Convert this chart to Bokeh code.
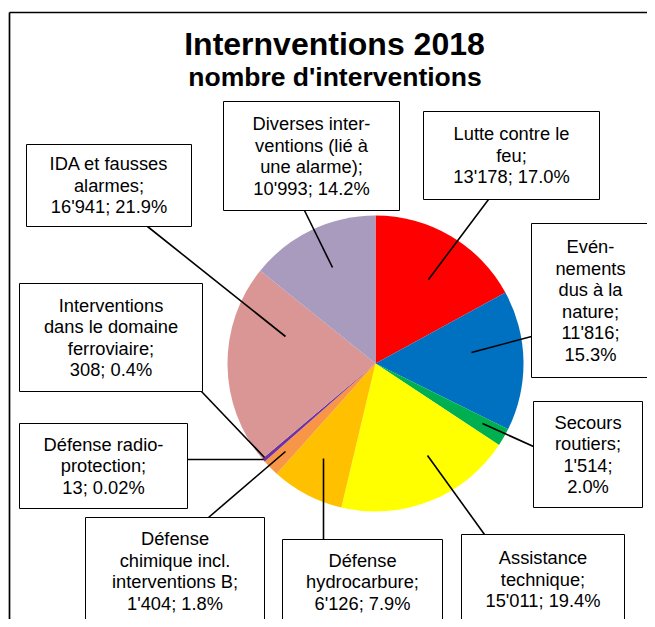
import math
from bokeh.plotting import figure
from bokeh.models import Range1d
from bokeh.core.properties import value
from bokeh.embed import file_html
from bokeh.resources import INLINE

# ---------------- data ----------------
categories = [
    "Lutte contre le feu",
    "Evénements dus à la nature",
    "Secours routiers",
    "Assistance technique",
    "Défense hydrocarbure",
    "Défense chimique incl. interventions B",
    "Défense radio-protection",
    "Interventions dans le domaine ferroviaire",
    "IDA et fausses alarmes",
    "Diverses interventions (lié à une alarme)",
]
counts = [13178, 11816, 1514, 15011, 6126, 1404, 13, 308, 16941, 10993]
colors = ["#FF0000", "#0070C0", "#00B050", "#FFFF00", "#FFC000",
          "#F79646", "#C0504D", "#7030A0", "#D99694", "#A89BBE"]
# wrapped name lines as shown in the labels
name_lines = [
    ["Lutte contre le", "feu;"],
    ["Evén-", "nements", "dus à la", "nature;"],
    ["Secours", "routiers;"],
    ["Assistance", "technique;"],
    ["Défense", "hydrocarbure;"],
    ["Défense", "chimique incl.", "interventions B;"],
    ["Défense radio-", "protection;"],
    ["Interventions", "dans le domaine", "ferroviaire;"],
    ["IDA et fausses", "alarmes;"],
    ["Diverses inter-", "ventions (lié à", "une alarme);"],
]
title = "Internventions 2018"
subtitle = "nombre d'interventions"

# ---------------- layout (image pixel coordinates) ----------------
W, H = 655, 627
PW, PH = W - 8, H - 8
CX, CY, R = 375, 363, 148
# label boxes: left, top, right, bottom
boxes = [
    (423, 111, 599, 199), (531, 223, 649, 377), (533, 401, 642, 507),
    (461, 534, 624, 624), (282, 539, 442, 624), (85, 517, 264, 624),
    (19, 423, 187, 508), (19, 283, 202, 391), (26, 144, 191, 226),
    (223, 101, 399, 210),
]
# leader lines: box end -> point in slice
leaders = [
    (488, 199, 428, 279), (531, 336, 471, 352), (533, 446, 482, 423),
    (484, 534, 427, 455), (323, 539, 323, 458), (208, 517, 285, 451),
    (187, 459, 263, 459), (201, 391, 264, 457), (147, 226, 285, 336),
    (304, 210, 332, 267),
]
split_value_line = [False, True, True, False, False, False, False, False, False, False]

FONT = "Liberation Sans"
FS = 18.3
LH = 21.5
CAP = 0.716 * FS
KSHIFT = 0.36  # baseline correction (em)


def Y(y):
    return H - y


def fmt_int(n):
    return f"{n:,}".replace(",", "'")


def fmt_pct(f):
    pct = 100.0 * f
    return f"{pct:.2f}%" if pct < 0.1 else f"{pct:.1f}%"


p = figure(width=PW, height=PH, x_range=Range1d(0, PW), y_range=Range1d(H - PH, H),
           output_backend="svg", toolbar_location=None,
           x_axis_location=None, y_axis_location=None, min_border=0)
p.outline_line_color = None
p.xgrid.visible = False
p.ygrid.visible = False
p.background_fill_color = "white"
p.border_fill_color = "white"

# frame (top and left edges visible)
p.segment(x0=[9, 9], y0=[Y(12), Y(12)], x1=[W + 5, 9], y1=[Y(12), -5],
          line_color="black", line_width=1.7)

# pie
total = float(sum(counts))
starts, ends = [], []
cum = 0.0
for c in counts:
    starts.append(math.pi / 2 - 2 * math.pi * cum)
    cum += c / total
    ends.append(math.pi / 2 - 2 * math.pi * cum)
p.wedge(x=CX, y=Y(CY), radius=R, start_angle=starts, end_angle=ends,
        direction="clock", fill_color=colors, line_color=None)

# leader lines
p.segment(x0=[l[0] for l in leaders], y0=[Y(l[1]) for l in leaders],
          x1=[l[2] for l in leaders], y1=[Y(l[3]) for l in leaders],
          line_color="black", line_width=1.6)

# boxes
p.quad(left=[b[0] for b in boxes], right=[b[2] for b in boxes],
       top=[Y(b[1]) for b in boxes], bottom=[Y(b[3]) for b in boxes],
       fill_color="white", line_color="black", line_width=1)

# label texts
tx, ty, tt = [], [], []
for i, c in enumerate(counts):
    v = fmt_int(c)
    pc = fmt_pct(c / total)
    lines = list(name_lines[i])
    if split_value_line[i]:
        lines += [v + ";", pc]
    else:
        lines += [f"{v}; {pc}"]
    l, t, r, b = boxes[i]
    cxb = (l + r) / 2
    cyb = (t + b) / 2
    n = len(lines)
    for k, s in enumerate(lines):
        base = cyb + (k - (n - 1) / 2) * LH + CAP / 2 - KSHIFT * FS
        tx.append(cxb)
        ty.append(Y(base))
        tt.append(s)
p.text(x=tx, y=ty, text=tt, text_align="center", text_baseline="alphabetic",
       text_font=value(FONT), text_font_size=value(f"{FS}px"), text_color="black")

# titles
p.text(x=[334], y=[Y(55 - KSHIFT * 32)], text=[title], text_align="center",
       text_baseline="alphabetic", text_font=value(FONT), text_font_size=value("32px"),
       text_font_style="bold", text_color="black")
p.text(x=[334.5], y=[Y(86 - KSHIFT * 26.5)], text=[subtitle], text_align="center",
       text_baseline="alphabetic", text_font=value(FONT), text_font_size=value("26.5px"),
       text_font_style="bold", text_color="black")

open("out.html", "w").write(file_html(p, INLINE))
